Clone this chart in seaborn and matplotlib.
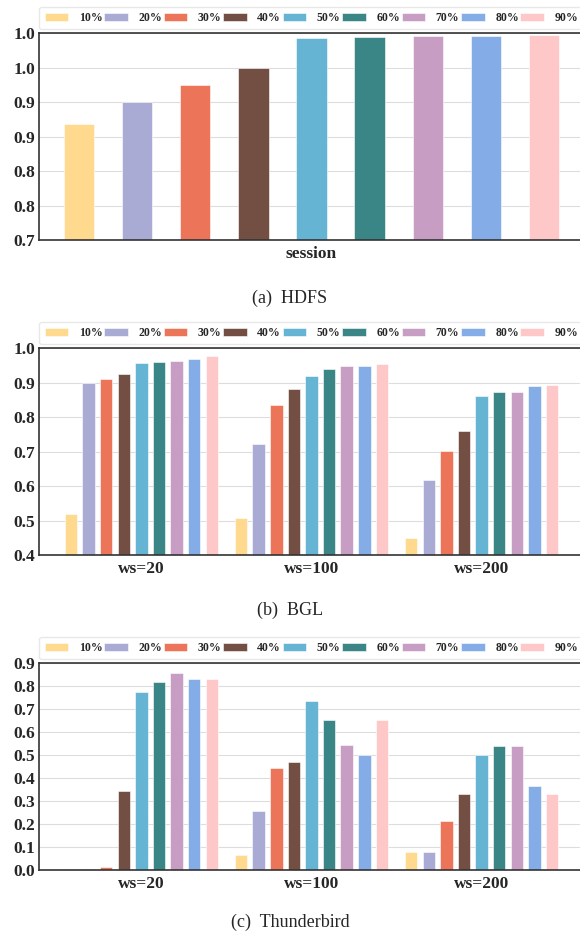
import numpy as np
import pandas as pd
import matplotlib
matplotlib.use('Agg')
import matplotlib.pyplot as plt
import seaborn as sns

sns.set_style('whitegrid')
plt.rcParams['font.family'] = ['Liberation Serif', 'DejaVu Serif']

# training ratios (hue levels) and their colours
ratios = ['10%', '20%', '30%', '40%', '50%', '60%', '70%', '80%', '90%']
colors = ['#FED98E', '#A9ABD4', '#EC7459', '#734F43', '#65B4D3',
          '#3A8686', '#C79DC4', '#84ADE8', '#FEC8C8']

# (a) HDFS
hdfs_groups = ['session']
hdfs_vals = [[0.869, 0.900, 0.925, 0.950, 0.993, 0.994, 0.996, 0.996, 0.997]]
hdfs_yticks = [0.70, 0.75, 0.80, 0.85, 0.90, 0.95, 1.00]
hdfs_yticklabels = ['0.7', '0.8', '0.8', '0.9', '0.9', '1.0', '1.0']

# (b) BGL and (c) Thunderbird, by window size
win_groups = ['ws=20', 'ws=100', 'ws=200']
bgl_vals = [
    [0.519, 0.900, 0.910, 0.924, 0.956, 0.959, 0.963, 0.969, 0.977],
    [0.506, 0.722, 0.834, 0.881, 0.921, 0.939, 0.949, 0.949, 0.955],
    [0.449, 0.618, 0.702, 0.760, 0.861, 0.873, 0.874, 0.891, 0.894],
]
bgl_yticks = [0.4, 0.5, 0.6, 0.7, 0.8, 0.9, 1.0]
bgl_yticklabels = ['0.4', '0.5', '0.6', '0.7', '0.8', '0.9', '1.0']

tb_vals = [
    [0.003, 0.003, 0.012, 0.345, 0.774, 0.819, 0.858, 0.832, 0.832],
    [0.064, 0.258, 0.443, 0.472, 0.735, 0.652, 0.545, 0.499, 0.652],
    [0.078, 0.078, 0.212, 0.333, 0.499, 0.541, 0.541, 0.364, 0.333],
]
tb_yticks = [0.0, 0.1, 0.2, 0.3, 0.4, 0.5, 0.6, 0.7, 0.8, 0.9]
tb_yticklabels = ['0.0', '0.1', '0.2', '0.3', '0.4', '0.5', '0.6', '0.7', '0.8', '0.9']

captions = ['(a)  HDFS', '(b)  BGL', '(c)  Thunderbird']


def to_long(groups, vals):
    rows = []
    for g, row in zip(groups, vals):
        for r, v in zip(ratios, row):
            rows.append({'group': g, 'ratio': r, 'value': v})
    return pd.DataFrame(rows)


fig = plt.figure(figsize=(5.8, 9.34), dpi=100)

panels = [
    (to_long(hdfs_groups, hdfs_vals), hdfs_yticks, hdfs_yticklabels, (-0.5, 0.5), 0.96, 0.48),
    (to_long(win_groups, bgl_vals), bgl_yticks, bgl_yticklabels, (-0.6, 2.6), 0.932, 0.29),
    (to_long(win_groups, tb_vals), tb_yticks, tb_yticklabels, (-0.6, 2.6), 0.932, 0.29),
]
bottoms = [1 - 240 / 934, 1 - 555 / 934, 1 - 870 / 934]
cap_y = [1 - 298 / 934, 1 - 610 / 934, 1 - 922 / 934]

for i, (df, yt, ytl, xl, w, gp) in enumerate(panels):
    ax = fig.add_axes([39.3 / 580, bottoms[i], 544.4 / 580, 206.7 / 934])
    sns.barplot(data=df, x='group', y='value', hue='ratio', palette=colors,
                saturation=1, width=w, gap=gp, edgecolor='white', linewidth=0.4,
                ax=ax)
    ax.set_xlim(*xl)
    ax.set_ylim(yt[0], yt[-1])
    ax.set_yticks(yt)
    ax.set_yticklabels(ytl)
    ax.set_xlabel('')
    ax.set_ylabel('')
    ax.grid(axis='y', color='#DDDDDD', linewidth=0.8)
    ax.grid(axis='x', visible=False)
    ax.set_axisbelow(True)
    for s in ax.spines.values():
        s.set_color('#333333')
        s.set_linewidth(1.2)
    ax.tick_params(axis='y', length=0, pad=3, labelsize=12.5)
    ax.tick_params(axis='x', length=3, width=0.8, color='#555555', pad=1, labelsize=12.5)
    for lab in ax.get_xticklabels() + ax.get_yticklabels():
        lab.set_fontweight('bold')

    handles, labels = ax.get_legend_handles_labels()
    ax.legend(handles, labels, loc='lower left', bbox_to_anchor=(0, 1.02, 1, 0.1),
              mode='expand', ncol=9, prop={'weight': 'bold', 'size': 8.5},
              handlelength=2.0, handletextpad=0.9, columnspacing=0.3,
              borderpad=0.45, borderaxespad=0, frameon=True,
              edgecolor='#E3E3E3', fancybox=True)

    fig.text(0.5, cap_y[i], captions[i], ha='center', va='center', fontsize=13)

fig.savefig('out.png', dpi=100)
